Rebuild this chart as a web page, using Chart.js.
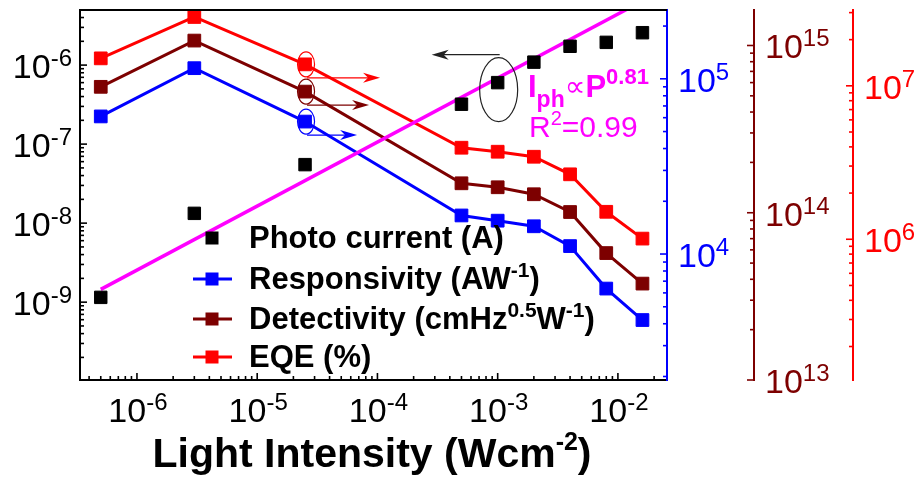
<!DOCTYPE html>
<html>
<head>
<meta charset="utf-8">
<script src="https://cdn.jsdelivr.net/npm/chart.js@4.4.1/dist/chart.umd.min.js"></script>
<style>
  html, body { margin: 0; padding: 0; background: #fff; }
  canvas { display: block; }
</style>
</head>
<body>
<canvas id="c" width="919" height="482"></canvas>
<script>
// Light intensity (W cm^-2)
const intensity = [5e-7, 3e-6, 2.5e-5, 5e-4, 1e-3, 2e-3, 4e-3, 8e-3, 1.6e-2];
// Photocurrent (A), left axis
const photoCurrent = [1.15e-9, 1.33e-8, 5.5e-8, 3.2e-7, 6.0e-7, 1.09e-6, 1.73e-6, 1.94e-6, 2.57e-6];
// Responsivity (A/W), first right axis
const responsivity = [6.1e4, 1.15e5, 5.7e4, 1.66e4, 1.55e4, 1.44e4, 1.11e4, 6.35e3, 4.2e3];
// Detectivity (cm Hz^0.5 W^-1), second right axis
const detectivity = [5.66e14, 1.07e15, 5.3e14, 1.5e14, 1.42e14, 1.29e14, 1.01e14, 5.74e13, 3.77e13];
// EQE (%), third right axis
const eqe = [1.51e7, 2.81e7, 1.38e7, 3.95e6, 3.72e6, 3.45e6, 2.65e6, 1.51e6, 1.01e6];
// Power-law fit I_ph ∝ P^0.81 (end points of the fitted line)
const fitIntensity = [5e-7, 1.6e-2];
const fitCurrent = [1.45e-9, 6.48e-6];
const fitExponent = '0.81';
const fitR2 = '0.99';

// Axis ranges
const xRange = [3.36e-7, 2.56e-2];
const yRange = [1.035e-10, 4.98e-6];
const respRange = [1.91e3, 2.47e5];
const detRange = [1e13, 1.63e15];
const eqeRange = [1.21e5, 3.12e7];

const BLUE = '#0000FF', DRED = '#7D0000', RED = '#FF0000', MAGENTA = '#FF00FF', BLACK = '#000000';
const FONT = '"Liberation Sans", Arial, "DejaVu Sans", sans-serif';

const pts = (xs, ys) => xs.map((x, i) => ({ x, y: ys[i] }));

// Log ticks at 1..9 x 10^n inside the scale range
function logTicks(scale) {
  const lo = Math.floor(Math.log10(scale.min)), hi = Math.ceil(Math.log10(scale.max));
  const out = [];
  for (let e = lo; e <= hi; e++) {
    for (let m = 1; m <= 9; m++) {
      const v = m * Math.pow(10, e);
      if (v >= scale.min * (1 - 1e-9) && v <= scale.max * (1 + 1e-9)) {
        out.push({ value: v, major: m === 1, exp: e });
      }
    }
  }
  scale.ticks = out;
}

function axis(extra, color, size) {
  return Object.assign({
    type: 'logarithmic',
    grid: { display: false, drawTicks: false },
    ticks: { display: false, autoSkip: false, callback: () => '' },
    border: { display: true, color: color, width: 2 },
    title: { display: false },
    afterBuildTicks: logTicks,
    afterFit: (s) => { if (s.isHorizontal()) s.height = size; else s.width = size; }
  }, extra);
}

// Draws a sequence of text runs; each run may be raised / lowered
function runsWidth(ctx, runs) {
  let w = 0;
  for (const r of runs) {
    ctx.font = `${r.bold ? 'bold ' : ''}${r.size}px ${FONT}`;
    w += ctx.measureText(r.t).width + (r.gap || 0);
  }
  return w;
}
function drawRuns(ctx, runs, x, y, color, align) {
  const w = runsWidth(ctx, runs);
  let cx = align === 'right' ? x - w : align === 'center' ? x - w / 2 : x;
  ctx.fillStyle = color;
  ctx.textAlign = 'left';
  ctx.textBaseline = 'alphabetic';
  for (const r of runs) {
    ctx.font = `${r.bold ? 'bold ' : ''}${r.size}px ${FONT}`;
    ctx.fillText(r.t, cx, y + (r.dy || 0));
    cx += ctx.measureText(r.t).width + (r.gap || 0);
  }
}
const pow10 = (e) => [{ t: '10', size: 34 }, { t: String(e), size: 24, dy: -12 }];

// Axis colours
const axisLook = {
  x:  { color: BLACK },
  y:  { color: BLACK },
  yR: { color: BLUE },
  yD: { color: DRED },
  yE: { color: RED }
};

const decor = {
  id: 'decor',
  afterDatasetsDraw(chart) {
    const ctx = chart.ctx, a = chart.chartArea;
    ctx.save();
    // top frame
    ctx.strokeStyle = BLACK; ctx.lineWidth = 2;
    ctx.beginPath(); ctx.moveTo(a.left - 1, a.top); ctx.lineTo(a.right, a.top); ctx.stroke();

    // inward tick marks and power-of-ten labels
    for (const id of Object.keys(axisLook)) {
      const s = chart.scales[id], col = axisLook[id].color;
      ctx.strokeStyle = col; ctx.lineWidth = 1.6;
      for (const t of s.ticks) {
        const p = s.getPixelForValue(t.value);
        const len = t.major ? 7 : 4;
        ctx.beginPath();
        if (id === 'x') { ctx.moveTo(p, a.bottom); ctx.lineTo(p, a.bottom - len); }
        else if (id === 'y') { ctx.moveTo(a.left, p); ctx.lineTo(a.left + len, p); }
        else { ctx.moveTo(s.left, p); ctx.lineTo(s.left - len, p); }
        ctx.stroke();
        if (!t.major) continue;
        if (id === 'x') drawRuns(ctx, pow10(t.exp), p + 1, a.bottom + 42, col, 'center');
        else if (id === 'y') drawRuns(ctx, pow10(t.exp), a.left - 8, p + 13, col, 'right');
        else drawRuns(ctx, pow10(t.exp), s.left + 11, p + 13, col, 'left');
      }
    }

    // x axis title
    drawRuns(ctx, [
      { t: 'Light Intensity (Wcm', size: 41, bold: true },
      { t: '-2', size: 25, bold: true, dy: -17 },
      { t: ')', size: 41, bold: true }
    ], 372, 467, BLACK, 'center');

    // legend
    const leg = [
      { ds: 0, runs: [{ t: 'Photo current (A)', size: 31, bold: true }] },
      { ds: 2, runs: [{ t: 'Responsivity (AW', size: 31, bold: true }, { t: '-1', size: 21, bold: true, dy: -12 }, { t: ')', size: 31, bold: true }] },
      { ds: 3, runs: [{ t: 'Detectivity (cmHz', size: 31, bold: true }, { t: '0.5', size: 21, bold: true, dy: -12 }, { t: 'W', size: 31, bold: true }, { t: '-1', size: 21, bold: true, dy: -12 }, { t: ')', size: 31, bold: true }] },
      { ds: 4, runs: [{ t: 'EQE (%)', size: 31, bold: true }] }
    ];
    const rowY = [238, 279, 319, 357];
    leg.forEach((item, i) => {
      const d = chart.data.datasets[item.ds];
      const y = rowY[i], mx = 212;
      if (d.showLine !== false) {
        ctx.strokeStyle = d.borderColor; ctx.lineWidth = 3;
        ctx.beginPath(); ctx.moveTo(193, y); ctx.lineTo(232, y); ctx.stroke();
      }
      ctx.fillStyle = d.backgroundColor;
      ctx.fillRect(mx - 6.5, y - 6.5, 13, 13);
      drawRuns(ctx, item.runs, 249, y + 10, BLACK, 'left');
    });

    // circled points with arrows toward their axes
    const xs = chart.scales.x;
    const ring = (px, py, rx, ry, col) => {
      ctx.strokeStyle = col; ctx.lineWidth = 1.2;
      ctx.beginPath(); ctx.ellipse(px, py, rx, ry, 0, 0, Math.PI * 2); ctx.stroke();
    };
    const arrow = (x0, y0, x1, col) => {
      const dir = Math.sign(x1 - x0);
      ctx.strokeStyle = col; ctx.fillStyle = col; ctx.lineWidth = 1.2;
      ctx.beginPath(); ctx.moveTo(x0, y0); ctx.lineTo(x1 - dir * 6, y0); ctx.stroke();
      ctx.beginPath();
      ctx.moveTo(x1, y0);
      ctx.lineTo(x1 - dir * 17, y0 - 5);
      ctx.lineTo(x1 - dir * 12, y0);
      ctx.lineTo(x1 - dir * 17, y0 + 5);
      ctx.closePath(); ctx.fill();
    };
    const circled = [
      { ds: 4, axisId: 'yE', len: 73 },
      { ds: 3, axisId: 'yD', len: 62 },
      { ds: 2, axisId: 'yR', len: 50 }
    ];
    circled.forEach(c => {
      const d = chart.data.datasets[c.ds];
      const px = xs.getPixelForValue(d.data[2].x);
      const py = chart.scales[c.axisId].getPixelForValue(d.data[2].y);
      ring(px + 1, py, 8.5, 12.5, d.borderColor);
      arrow(px + 2, py + 13.5, px + 2 + c.len, d.borderColor);
    });
    // photocurrent group points to the left axis
    {
      const d = chart.data.datasets[0];
      const px = xs.getPixelForValue(d.data[4].x);
      const py = chart.scales.y.getPixelForValue(d.data[4].y);
      ring(px + 1, py + 7, 19, 32, '#222');
      arrow(px + 2, py - 28, px - 66, '#222');
    }

    // fit annotation
    drawRuns(ctx, [
      { t: 'I', size: 31, bold: true },
      { t: 'ph', size: 23, bold: true, dy: 10 },
      { t: '\u221D', size: 29, dy: -1 },
      { t: 'P', size: 31, bold: true },
      { t: fitExponent, size: 22, bold: true, dy: -13 }
    ], 528, 97, MAGENTA, 'left');
    drawRuns(ctx, [
      { t: 'R', size: 30 },
      { t: '2', size: 20, dy: -12 },
      { t: '=' + fitR2, size: 30 }
    ], 529, 137, MAGENTA, 'left');

    ctx.restore();
  }
};

new Chart(document.getElementById('c'), {
  type: 'line',
  data: {
    datasets: [
      {
        label: 'Photo current (A)', data: pts(intensity, photoCurrent), yAxisID: 'y',
        showLine: false, pointStyle: 'rect', pointRadius: 8.8, pointBorderWidth: 1,
        backgroundColor: BLACK, borderColor: BLACK, order: 0, clip: false
      },
      {
        label: 'Fit', data: pts(fitIntensity, fitCurrent), yAxisID: 'y',
        borderColor: MAGENTA, backgroundColor: MAGENTA, borderWidth: 3.5, pointRadius: 0, order: 1
      },
      {
        label: 'Responsivity (AW-1)', data: pts(intensity, responsivity), yAxisID: 'yR',
        borderColor: BLUE, backgroundColor: BLUE, borderWidth: 3, pointStyle: 'rect',
        pointRadius: 9, pointBorderWidth: 1, order: 4, clip: false
      },
      {
        label: 'Detectivity (cmHz0.5W-1)', data: pts(intensity, detectivity), yAxisID: 'yD',
        borderColor: DRED, backgroundColor: DRED, borderWidth: 3, pointStyle: 'rect',
        pointRadius: 9, pointBorderWidth: 1, order: 3, clip: false
      },
      {
        label: 'EQE (%)', data: pts(intensity, eqe), yAxisID: 'yE',
        borderColor: RED, backgroundColor: RED, borderWidth: 3, pointStyle: 'rect',
        pointRadius: 9, pointBorderWidth: 1, order: 2, clip: false
      }
    ]
  },
  options: {
    responsive: false,
    animation: false,
    devicePixelRatio: 1,
    layout: { padding: { top: 4, left: 0, right: 0, bottom: 0 } },
    elements: { line: { tension: 0 } },
    plugins: { legend: { display: false }, tooltip: { enabled: false } },
    scales: {
      x: axis({ position: 'bottom', min: xRange[0], max: xRange[1] }, BLACK, 102),
      y: axis({ position: 'left', min: yRange[0], max: yRange[1] }, BLACK, 80),
      yR: axis({ position: 'right', weight: 0, min: respRange[0], max: respRange[1] }, BLUE, 87),
      yD: axis({ position: 'right', weight: 1, min: detRange[0], max: detRange[1] }, DRED, 99),
      yE: axis({ position: 'right', weight: 2, min: eqeRange[0], max: eqeRange[1] }, RED, 66)
    }
  },
  plugins: [decor]
});
</script>
</body>
</html>
